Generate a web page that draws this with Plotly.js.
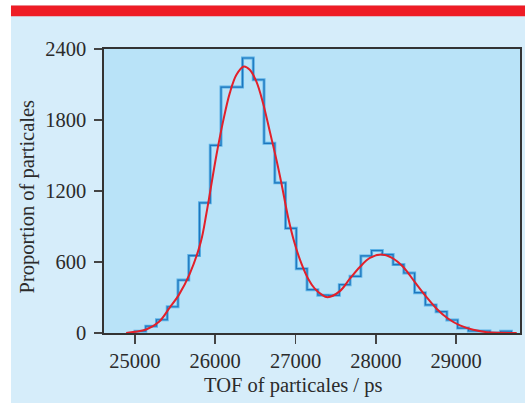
<!DOCTYPE html>
<html>
<head>
<meta charset="utf-8">
<script src="https://cdn.plot.ly/plotly-3.0.1.min.js"></script>
<style>
html,body{margin:0;padding:0;background:#fff;}
#chart{width:525px;height:403px;}
</style>
</head>
<body>
<div id="chart"></div>
<script>
// Histogram bin edges (ps) and counts
var binEdges = [25000, 25134, 25268, 25402, 25536, 25670, 25804, 25938, 26072, 26206,
  26340, 26474, 26608, 26742, 26876, 27010, 27144, 27278, 27412, 27546,
  27680, 27814, 27948, 28082, 28216, 28350, 28484, 28618, 28752, 28886,
  29020, 29154, 29288, 29422, 29556, 29690];
var counts = [15, 58, 112, 222, 447, 654, 1100, 1586, 2078, 2078,
  2324, 2140, 1603, 1269, 885, 544, 366, 320, 318, 408,
  479, 651, 697, 663, 578, 507, 341, 237, 180, 110,
  42, 17, 17, 0, 15];

// Fitted curve
var fitX = [24890, 25000, 25140, 25300, 25433, 25545, 25682, 25820, 25890, 26015,
  26097, 26181, 26264, 26355, 26430, 26513, 26596, 26680, 26763, 26825,
  26907, 26990, 27074, 27157, 27240, 27323, 27400, 27553, 27677, 27802,
  27927, 28072, 28197, 28342, 28487, 28633, 28758, 28903, 29049, 29215,
  29382, 29548, 29756];
var fitY = [0, 10, 30, 95, 215, 320, 500, 770, 1010, 1504,
  1786, 2027, 2182, 2252, 2225, 2125, 1942, 1702, 1462, 1264,
  981, 756, 586, 459, 375, 326, 303, 354, 459, 558,
  634, 663, 637, 558, 430, 303, 205, 120, 64, 27,
  7, 2, 0];

var xTicks = [25000, 26000, 27000, 28000, 29000];
var yTicks = [0, 600, 1200, 1800, 2400];

var stepX = [binEdges[0]].concat(binEdges);
var stepY = [0].concat(counts).concat([0]);

var fontFam = 'Liberation Serif, Times New Roman, serif';
var txtCol = '#2b2b2b';

var traces = [
  {x: stepX, y: stepY, mode: 'lines', line: {shape: 'hv', color: '#5db2e6', width: 3}, hoverinfo: 'skip'},
  {x: stepX, y: stepY, mode: 'lines', line: {shape: 'hv', color: '#1d76bd', width: 1.2}, hoverinfo: 'skip'},
  {x: fitX, y: fitY, mode: 'lines', line: {shape: 'spline', smoothing: 1, color: '#e3202a', width: 2}, hoverinfo: 'skip'}
];

var layout = {
  width: 525, height: 403,
  margin: {l: 104, r: 5, t: 49, b: 70, pad: 0},
  paper_bgcolor: '#d6edfa',
  plot_bgcolor: '#b9e3f8',
  showlegend: false,
  font: {family: fontFam, color: txtCol, size: 20.5},
  xaxis: {
    range: [24614, 29797], tickvals: xTicks, ticktext: xTicks.map(String),
    ticks: 'outside', ticklen: 9, tickwidth: 1.6, tickcolor: '#444',
    showline: true, linecolor: '#333', linewidth: 1.6, mirror: true,
    showgrid: false, zeroline: false, ticklabelstandoff: 0,
    tickfont: {family: fontFam, size: 20.5, color: txtCol}
  },
  yaxis: {
    range: [0, 2400], tickvals: yTicks, ticktext: yTicks.map(String),
    ticks: 'outside', ticklen: 8, tickwidth: 1.6, tickcolor: '#444',
    showline: true, linecolor: '#333', linewidth: 1.6, mirror: true,
    showgrid: false, zeroline: false, ticklabelstandoff: 4,
    tickfont: {family: fontFam, size: 20.5, color: txtCol}
  },
  shapes: [
    {type: 'rect', xref: 'paper', yref: 'paper', x0: -0.26, x1: -0.2236, y0: -0.3, y1: 1.2, fillcolor: '#ffffff', line: {width: 0}, layer: 'above'},
    {type: 'rect', xref: 'paper', yref: 'paper', x0: -0.26, x1: 1.02, y0: 1.153, y1: 1.2, fillcolor: '#ffffff', line: {width: 0}, layer: 'above'},
    {type: 'rect', xref: 'paper', yref: 'paper', x0: -0.2236, x1: 1.02, y0: 1.115, y1: 1.153, fillcolor: '#ee1c25', line: {width: 0}, layer: 'above'}
  ],
  annotations: [
    {text: 'TOF of particales / ps', xref: 'paper', yref: 'paper', x: 0.4547, y: -0.184,
     xanchor: 'center', yanchor: 'middle', showarrow: false, font: {family: fontFam, size: 20.5, color: txtCol}},
    {text: 'Proportion of particales', xref: 'paper', yref: 'paper', x: -0.1827, y: 0.4806,
     xanchor: 'center', yanchor: 'middle', textangle: -90, showarrow: false, font: {family: fontFam, size: 20.5, color: txtCol}}
  ]
};

Plotly.newPlot('chart', traces, layout, {staticPlot: true, displayModeBar: false});
</script>
</body>
</html>
